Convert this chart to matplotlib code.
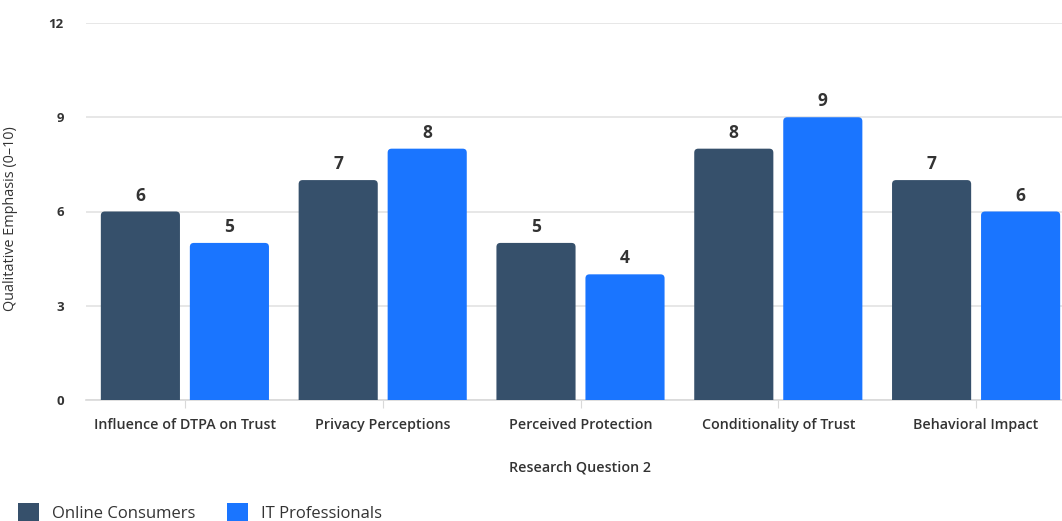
import matplotlib
matplotlib.use('Agg')
import matplotlib.pyplot as plt
from matplotlib.patches import FancyBboxPatch, Patch
import numpy as np

plt.rcParams['font.family'] = ['Open Sans', 'DejaVu Sans']

categories = ['Influence of DTPA on Trust', 'Privacy Perceptions', 'Perceived Protection',
              'Conditionality of Trust', 'Behavioral Impact']
consumers = [6, 7, 5, 8, 7]
professionals = [5, 8, 4, 9, 6]
series_names = ['Online Consumers', 'IT Professionals']
colors = ['#36506b', '#1a75ff']
y_ticks = [0, 3, 6, 9, 12]

text_color = '#333333'

fig = plt.figure(figsize=(10.62, 5.21), dpi=100)
# axes run slightly past the right edge of the canvas
ax = fig.add_axes([86 / 1062, 121 / 521, 989 / 1062, 377 / 521])

x = np.arange(len(categories))
bar_w = 0.40
gap = 0.05
offsets = [-(bar_w + gap) / 2, (bar_w + gap) / 2]

ax.set_xlim(-0.5, len(categories) - 0.5)
ax.set_ylim(0, 12)

# rounded corners: radius in x data units, aspect converts to y units
px_x = 1 / 197.75
px_y = 12 / 377
radius = 4 * px_x
aspect = px_y / px_x

for vals, off, col in zip([consumers, professionals], offsets, colors):
    bars = ax.bar(x + off, vals, bar_w, color=col, alpha=0)
    for b, v in zip(bars, vals):
        patch = FancyBboxPatch((b.get_x() + radius, 0), b.get_width() - 2 * radius, v - radius * aspect,
                               boxstyle=f'round,pad={radius}', mutation_aspect=aspect,
                               facecolor=col, edgecolor='none', zorder=3)
        ax.add_patch(patch)
        ax.text(b.get_x() + b.get_width() / 2, v + 0.22, str(v), ha='center', va='bottom',
                fontsize=12.5, fontweight='bold', color=text_color, zorder=4)

ax.set_yticks(y_ticks)
ax.set_yticklabels([str(t) for t in y_ticks], fontsize=9.5, fontweight='bold', color=text_color)
ax.set_xticks(x)
ax.set_xticklabels(categories, fontsize=10.3, fontweight='semibold', color=text_color)
ax.tick_params(axis='y', length=0, pad=16)
ax.tick_params(axis='x', length=6, color='#d9d9d9', pad=7)
ax.grid(axis='y', color='#e3e3e3', linewidth=1.2, zorder=0)
ax.set_axisbelow(True)
for s in ['top', 'right', 'left']:
    ax.spines[s].set_visible(False)
ax.spines['bottom'].set_color('#d9d9d9')
ax.spines['bottom'].set_linewidth(1.2)

ax.set_ylabel('Qualitative Emphasis (0–10)', fontsize=10.4, color=text_color)
ax.yaxis.set_label_coords((18 - 86) / 989, (400 - 219) / 377)
ax.set_xlabel('Research Question 2', fontsize=10.3, fontweight='semibold', color=text_color)
ax.xaxis.set_label_coords((580 - 86) / 989, -(67 - 6) / 377)

handles = [Patch(facecolor=c, edgecolor='none') for c in colors]
fig.legend(handles, series_names, loc='lower left', bbox_to_anchor=(0.003, -0.03), ncol=2,
           frameon=False, fontsize=12, handlelength=1.25, handleheight=1.25, handletextpad=0.78,
           columnspacing=1.9, labelcolor=text_color)

fig.savefig('out.png', dpi=100)
